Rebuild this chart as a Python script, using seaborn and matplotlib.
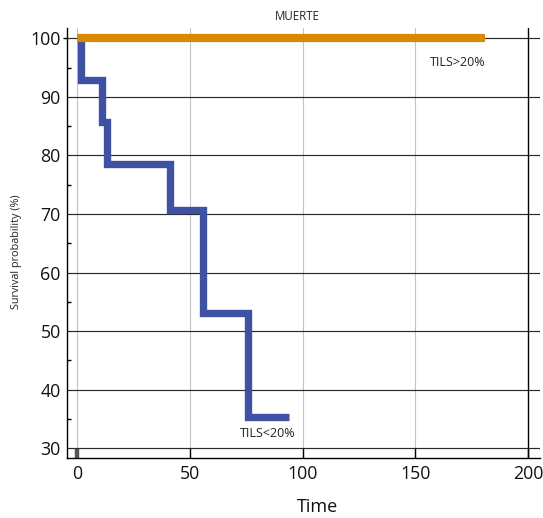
import matplotlib
matplotlib.use("Agg")
import matplotlib.pyplot as plt
import seaborn as sns
import pandas as pd
import numpy as np
from matplotlib.ticker import MultipleLocator

# ---- data ----
low_time = [0, 2, 11.2, 13.2, 41.2, 56.0, 76.0, 94.0]
low_surv = [100, 92.86, 85.71, 78.57, 70.71, 53.03, 35.36, 35.36]
high_time = [0, 181]
high_surv = [100, 100]
groups = ["TILS<20%", "TILS>20%"]
colors = ["#3F51A3", "#D88A02"]
xticks = [0, 50, 100, 150, 200]
yticks = [30, 40, 50, 60, 70, 80, 90, 100]

df = pd.concat([
    pd.DataFrame({"Time": low_time, "Surv": low_surv, "grp": groups[0]}),
    pd.DataFrame({"Time": high_time, "Surv": high_surv, "grp": groups[1]}),
], ignore_index=True)

sns.set_theme(style="white")
plt.rcParams["font.family"] = ["Open Sans", "DejaVu Sans"]

fig = plt.figure(figsize=(5.43, 5.18), dpi=100)
ax = fig.add_axes([67/543, 1-458.3/518, (540-67)/543, (458.3-28.3)/518])

lws = [5.3, 5.9]
for g, c, lw in zip(groups, colors, lws):
    sub = df[df["grp"] == g]
    sns.lineplot(data=sub, x="Time", y="Surv", ax=ax, color=c, lw=lw,
                 estimator=None, sort=False, drawstyle="steps-post",
                 solid_capstyle="butt", solid_joinstyle="miter", legend=False)

ax.set_xlim(-4.4, 205.2)
ax.set_ylim(28.3, 101.7)
ax.set_xticks(xticks)
ax.set_yticks(yticks)
ax.yaxis.set_minor_locator(MultipleLocator(5))

for s in ["top", "right"]:
    ax.spines[s].set_visible(False)
for s in ["left", "bottom"]:
    ax.spines[s].set_color("black")
    ax.spines[s].set_linewidth(1.0)

ax.grid(axis="y", which="major", color="#2a2a2a", lw=0.85)
ax.grid(axis="x", which="major", color="#c4c4c4", lw=0.8)
ax.xaxis.get_gridlines()[-1].set_color("black")
ax.xaxis.get_gridlines()[-1].set_linewidth(1.0)
ax.set_axisbelow(True)

ax.tick_params(axis="x", which="major", direction="in", length=7.2, width=1.0,
               color="black", labelsize=12.8, labelcolor="#111111", pad=5, bottom=True)
ax.tick_params(axis="y", which="major", direction="out", length=3, width=1.0,
               color="black", labelsize=12.8, labelcolor="#111111", pad=1.5, left=True)
ax.tick_params(axis="y", which="minor", direction="in", length=3.2, width=1.0,
               color="black", left=True)

# thick grey tick at 0
tl = ax.xaxis.get_majorticklines()
tl[0].set_markeredgewidth(3.2)
tl[0].set_markeredgecolor("#555555")
# outward major y ticks only on 100
ytl = ax.yaxis.get_majorticklines()
for i, line in enumerate(ytl):
    if i // 2 != len(yticks) - 1:
        line.set_visible(False)

ax.set_xlabel("Time", fontsize=13, color="#111111")
ax.xaxis.set_label_coords((317.5-67)/473, (458.3-507)/430)
ax.xaxis.label.set_va("center")
ax.set_ylabel("Survival probability (%)", fontsize=7.8, color="#222222")
ax.yaxis.set_label_coords((17-67)/473, (458.3-251.5)/430)
ax.yaxis.label.set_va("center")

ax.text(168.6, 95.9, groups[1], fontsize=9, ha="center", va="center", color="#222222")
ax.text(84.6, 32.6, groups[0], fontsize=9, ha="center", va="center", color="#222222")

fig.text(297.5/543, 1-16.7/518, "MUERTE", fontsize=8.3, ha="center", va="center", color="#222222")

fig.savefig("out.png", dpi=100)
